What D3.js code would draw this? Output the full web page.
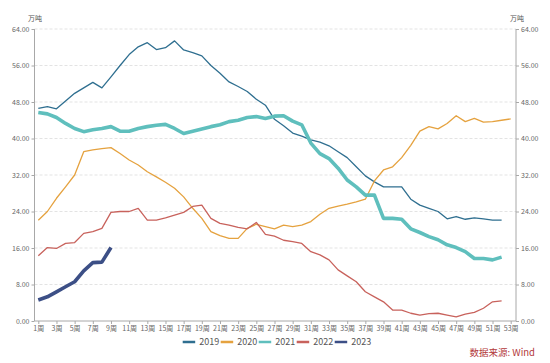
<!DOCTYPE html>
<html>
<head>
    <meta charset="utf-8">
    <script src="https://d3js.org/d3.v7.min.js"></script>
    <style>
        body { margin: 0; background: #fff; }
        svg text { font-family: "Noto Sans CJK SC", "Noto Sans", sans-serif; }
    </style>
</head>
<body>
<svg width="550" height="363"></svg>
<script>

    // week categories and axis ticks
    var weeks = d3.range(1, 54)
    var weekLabels = weeks.map(w => w + "周")
    var yTicks = [0, 8, 16, 24, 32, 40, 48, 56, 64]

    // weekly values, 万吨
    var s2019 = [46.6, 47.0, 46.5, 48.2, 49.9, 51.1, 52.3, 51.1, 53.5, 56.0, 58.4, 60.1, 61.0, 59.5, 59.9, 61.4, 59.4, 58.8, 58.1, 56.0,
        54.3, 52.4, 51.4, 50.3, 48.6, 47.3, 44.2, 42.8, 41.2, 40.5, 39.7, 39.2, 38.4, 37.1, 35.8, 33.8, 31.8, 30.5, 29.4, 29.4,
        29.4, 26.7, 25.4, 24.7, 24.0, 22.4, 22.9, 22.3, 22.6, 22.4, 22.1, 22.1]
    var s2020 = [22.1, 24.0, 26.9, 29.4, 32.0, 37.1, 37.5, 37.8, 38.0, 36.7, 35.3, 34.2, 32.7, 31.6, 30.4, 29.1, 27.2, 24.7, 22.5, 19.6,
        18.7, 18.1, 18.1, 20.3, 21.2, 20.7, 20.2, 21.0, 20.7, 21.0, 21.8, 23.4, 24.7, 25.2, 25.6, 26.1, 26.7, 30.7, 33.1, 33.8,
        35.8, 38.5, 41.6, 42.6, 42.1, 43.3, 45.0, 43.7, 44.4, 43.6, 43.7, 44.0, 44.3]
    var s2021 = [45.7, 45.4, 44.6, 43.3, 42.2, 41.5, 41.9, 42.2, 42.6, 41.6, 41.6, 42.2, 42.6, 42.9, 43.1, 42.2, 41.1, 41.6, 42.1, 42.6,
        43.0, 43.7, 44.0, 44.6, 44.8, 44.4, 44.9, 45.0, 43.8, 43.0, 39.0, 36.7, 35.6, 33.5, 30.9, 29.4, 27.6, 27.6, 22.5, 22.5,
        22.3, 20.2, 19.4, 18.5, 17.8, 16.7, 16.1, 15.2, 13.7, 13.7, 13.4, 14.0]
    var s2022 = [14.3, 16.1, 15.9, 17.0, 17.2, 19.2, 19.6, 20.3, 23.8, 24.0, 24.0, 24.7, 22.1, 22.1, 22.6, 23.2, 23.8, 25.1, 25.4, 22.5,
        21.4, 21.0, 20.5, 20.2, 21.6, 19.0, 18.6, 17.7, 17.4, 17.0, 15.2, 14.5, 13.4, 11.2, 9.9, 8.6, 6.4, 5.3, 4.2, 2.4,
        2.4, 1.7, 1.3, 1.6, 1.7, 1.3, 0.9, 1.5, 1.9, 2.8, 4.2, 4.4]
    var s2023 = [4.6, 5.3, 6.4, 7.5, 8.6, 11.0, 12.8, 12.9, 16.1]

    var seriesNames = ["2019", "2020", "2021", "2022", "2023"]
    var seriesData = [s2019, s2020, s2021, s2022, s2023]
    var colors = ["#2f6f90", "#e5a23f", "#5fbfbd", "#c8625c", "#3c4f86"]
    var widths = [1.3, 1.3, 3.6, 1.3, 3.6]

    var svg = d3.select("svg")

    var x = d3.scalePoint()
        .domain(weeks)
        .range([38.3, 510.7])

    var y = d3.scaleLinear()
        .domain([0, 64])
        .range([321, 29])

    var left = 34.5, right = 516

    //
    // grid
    //

    svg.append("g").selectAll("line")
        .data(yTicks.filter(d => d > 0))
        .enter().append("line")
        .attr("x1", left).attr("x2", right)
        .attr("y1", d => y(d)).attr("y2", d => y(d))
        .attr("stroke", "#dcdcdc")
        .attr("stroke-width", 0.8)
        .attr("stroke-dasharray", "3,2")

    //
    // axes
    //

    var yAxisL = svg.append("g")
        .attr("transform", "translate(" + left + ",0)")
        .call(d3.axisLeft(y).tickValues(yTicks).tickFormat(d3.format(".2f")).tickSize(3).tickPadding(2))
    var yAxisR = svg.append("g")
        .attr("transform", "translate(" + right + ",0)")
        .call(d3.axisRight(y).tickValues(yTicks).tickFormat(d3.format(".2f")).tickSize(3).tickPadding(2))

    var xAxis = svg.append("g")
        .attr("transform", "translate(0," + y(0) + ")")
        .call(d3.axisBottom(x).tickValues(weeks.filter(w => w % 2 == 1))
            .tickFormat(w => weekLabels[w - 1]).tickSize(3).tickPadding(2).tickSizeOuter(0))

    svg.selectAll(".domain").attr("stroke", "#a8a8a8")
    svg.selectAll(".tick line").attr("stroke", "#a8a8a8")
    svg.selectAll(".tick text").attr("fill", "#666").style("font-size", "7px")
    xAxis.select(".domain").attr("d", "M" + left + ",0H" + right)
    yAxisL.select(".domain").attr("d", "M0,29V321")
    yAxisR.select(".domain").attr("d", "M0,29V321")

    svg.append("text").attr("x", 28).attr("y", 21)
        .attr("fill", "#555").style("font-size", "7px").text("万吨")
    svg.append("text").attr("x", 510).attr("y", 21)
        .attr("fill", "#555").style("font-size", "7px").text("万吨")

    //
    // lines
    //

    var line = d3.line()
        .x((d, i) => x(weeks[i]))
        .y(d => y(d))

    svg.append("g").selectAll("path")
        .data(seriesData)
        .enter().append("path")
        .attr("d", d => line(d))
        .attr("fill", "none")
        .attr("stroke", (d, i) => colors[i])
        .attr("stroke-width", (d, i) => widths[i])
        .attr("stroke-linejoin", "round")

    //
    // legend
    //

    var legend = svg.append("g").selectAll("g")
        .data(seriesNames)
        .enter().append("g")
        .attr("transform", (d, i) => "translate(" + (182.7 + i * 38) + ",342)")

    legend.append("line")
        .attr("x1", 0).attr("x2", 12.5)
        .attr("stroke", (d, i) => colors[i])
        .attr("stroke-width", 2.5)

    legend.append("text")
        .attr("x", 16.5).attr("y", 3.2)
        .attr("fill", "#555")
        .style("font-size", "9px")
        .text(d => d)

    svg.append("text")
        .attr("x", 535).attr("y", 356)
        .attr("text-anchor", "end")
        .attr("fill", "#b2383a")
        .style("font-size", "9.5px")
        .text("数据来源: Wind")

</script>
</body>
</html>
